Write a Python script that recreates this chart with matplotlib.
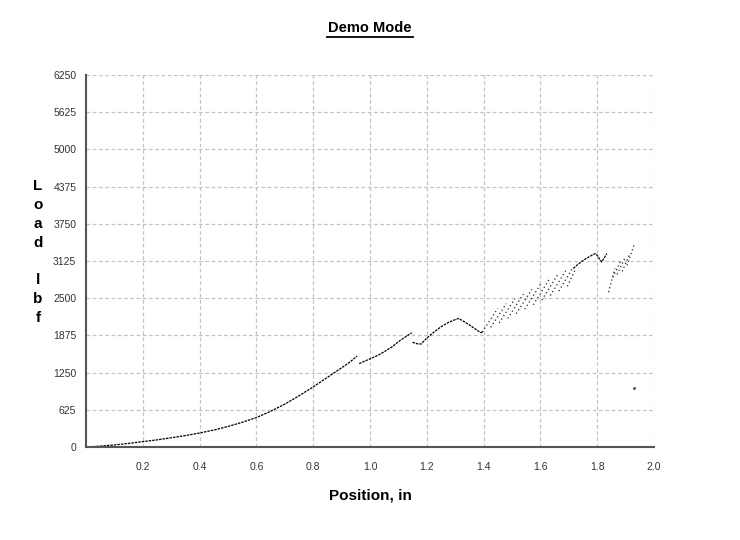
import matplotlib.pyplot as plt
from matplotlib.lines import Line2D

plt.rcParams['font.family'] = ['Liberation Sans', 'DejaVu Sans']

# curva principal, por tramos
tramo1_x = [0.00, 0.02, 0.05, 0.10, 0.15, 0.20, 0.25, 0.30, 0.35, 0.40, 0.45, 0.50,
            0.55, 0.60, 0.65, 0.70, 0.75, 0.80, 0.85, 0.90, 0.93, 0.955]
tramo1_y = [0, 5, 15, 35, 60, 90, 120, 155, 192, 235, 285, 345,
            415, 495, 600, 720, 860, 1010, 1170, 1330, 1430, 1530]

tramo2_x = [0.962, 0.98, 1.00, 1.03, 1.05, 1.08, 1.10, 1.125, 1.147]
tramo2_y = [1400, 1440, 1480, 1545, 1600, 1690, 1770, 1850, 1920]

tramo3_x = [1.150, 1.165, 1.180, 1.200, 1.225, 1.250, 1.275, 1.300, 1.312, 1.330,
            1.350, 1.370, 1.390, 1.400]
tramo3_y = [1760, 1735, 1730, 1830, 1930, 2020, 2090, 2140, 2160, 2110,
            2050, 1985, 1920, 1940]

tramo4_x = [1.716, 1.730, 1.745, 1.760, 1.775, 1.785, 1.793, 1.800, 1.808, 1.816,
            1.825, 1.834]
tramo4_y = [3000, 3060, 3115, 3165, 3205, 3230, 3250, 3220, 3160, 3110,
            3180, 3250]

# segmentos en diente de sierra (inicio -> fin)
sierra_x0 = [1.395, 1.425, 1.455, 1.485, 1.515, 1.545, 1.575, 1.605, 1.635, 1.665, 1.695,
             1.840, 1.855, 1.870, 1.888, 1.905]
sierra_x1 = [1.450, 1.480, 1.510, 1.540, 1.570, 1.600, 1.630, 1.660, 1.690, 1.715, 1.725,
             1.862, 1.885, 1.900, 1.915, 1.930]
sierra_y0 = [1930, 2010, 2085, 2160, 2240, 2315, 2390, 2470, 2545, 2620, 2700,
             2600, 2850, 2900, 2950, 3050]
sierra_y1 = [2330, 2410, 2490, 2570, 2650, 2730, 2810, 2890, 2970, 3020, 3000,
             3000, 3150, 3200, 3250, 3400]

punto_x = [1.93]
punto_y = [990]

x_ticks = [0.2, 0.4, 0.6, 0.8, 1.0, 1.2, 1.4, 1.6, 1.8, 2.0]
x_labels = ['0.2', '0.4', '0.6', '0.8', '1.0', '1.2', '1.4', '1.6', '1.8', '2.0']
y_ticks = [0, 625, 1250, 1875, 2500, 3125, 3750, 4375, 5000, 5625, 6250]

fig = plt.figure(figsize=(7.4, 5.4), dpi=100)
ax = fig.add_axes([86 / 740, 93 / 540, 568 / 740, 372 / 540])

estilo = dict(color='black', linewidth=0.9, linestyle=(0, (2, 0.8)))
ax.plot(tramo1_x, tramo1_y, **estilo)
ax.plot(tramo2_x, tramo2_y, **estilo)
ax.plot(tramo3_x, tramo3_y, **estilo)
ax.plot(tramo4_x, tramo4_y, **estilo)
for x0, x1, y0, y1 in zip(sierra_x0, sierra_x1, sierra_y0, sierra_y1):
    ax.plot([x0, x1], [y0, y1], color='#222222', linewidth=0.9, linestyle=(0, (1, 2.2)))
ax.plot(punto_x, punto_y, 's', color='#555555', markersize=1.0)

ax.set_xlim(0, 2.0)
ax.set_ylim(0, 6250)
ax.set_xticks(x_ticks)
ax.set_xticklabels(x_labels)
ax.set_yticks(y_ticks)
ax.tick_params(length=0, labelsize=7.5, labelcolor='#333333')
ax.tick_params(axis='y', pad=7)
ax.tick_params(axis='x', pad=11)
ax.grid(True, color='#c4c4c4', linestyle=(0, (3, 2)), linewidth=0.9)
ax.set_axisbelow(True)
for lado in ['top', 'right']:
    ax.spines[lado].set_visible(False)
for lado in ['left', 'bottom']:
    ax.spines[lado].set_color('#555555')
    ax.spines[lado].set_linewidth(1.5)

# titulo subrayado
fig.text(370 / 740, 1 - 28 / 540, 'Demo Mode', ha='center', va='center',
         fontsize=10.5, fontweight='bold')
fig.add_artist(Line2D([327 / 740, 413 / 740], [1 - 37 / 540, 1 - 37 / 540],
                      color='black', linewidth=1.3))

fig.text(38 / 740, 1 - 252 / 540, 'L\no\na\nd\n\nl\nb\nf', ha='center', va='center',
         fontsize=11, fontweight='bold', linespacing=1.45)
fig.text(370 / 740, 1 - 496 / 540, 'Position, in', ha='center', va='center',
         fontsize=11, fontweight='bold')

plt.savefig('out.png')
